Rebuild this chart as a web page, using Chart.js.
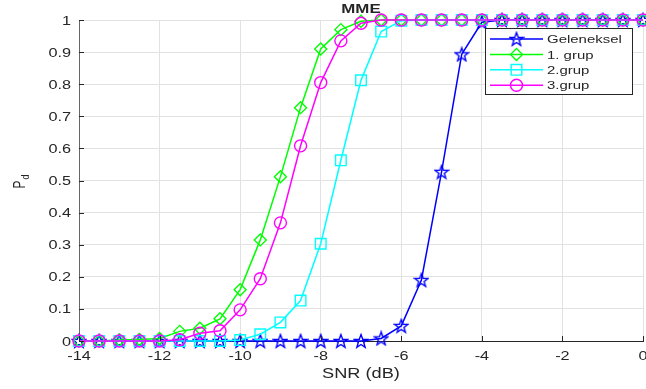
<!DOCTYPE html>
<html>
<head>
<meta charset="utf-8">
<script src="https://cdn.jsdelivr.net/npm/chart.js@4.4.1/dist/chart.umd.min.js"></script>
<style>
  html, body { margin: 0; padding: 0; background: #fff; }
  #wrap { width: 646px; height: 389px; position: relative; }
</style>
</head>
<body>
<div id="wrap"><canvas id="pdChart"></canvas></div>
<script>
// SNR points (dB)
var snr = [-14, -13.5, -13, -12.5, -12, -11.5, -11, -10.5, -10, -9.5, -9, -8.5, -8, -7.5, -7,
           -6.5, -6, -5.5, -5, -4.5, -4, -3.5, -3, -2.5, -2, -1.5, -1, -0.5, 0];

// Pd
var geleneksel = [0, 0, 0, 0, 0, 0, 0, 0, 0, 0, 0, 0, 0, 0, 0,
                  0.008, 0.047, 0.19, 0.527, 0.893, 0.993, 1, 1, 1, 1, 1, 1, 1, 1];
var grup1 = [0, 0, 0.003, 0.005, 0.008, 0.03, 0.04, 0.069, 0.16, 0.315, 0.512, 0.727, 0.91, 0.97, 0.996,
             1, 1, 1, 1, 1, 1, 1, 1, 1, 1, 1, 1, 1, 1];
var grup2 = [0, 0, 0, 0, 0, 0, 0, 0, 0.003, 0.021, 0.058, 0.126, 0.303, 0.563, 0.812,
             0.964, 0.998, 1, 1, 1, 1, 1, 1, 1, 1, 1, 1, 1, 1];
var grup3 = [0, 0, 0, 0, 0, 0.004, 0.024, 0.032, 0.097, 0.194, 0.368, 0.608, 0.805, 0.935, 0.99,
             1, 1, 1, 1, 1, 1, 1, 1, 1, 1, 1, 1, 1, 1];

var seriesNames = ['Geleneksel', '1. grup', '2.grup', '3.grup'];
var seriesColors = ['#0000ff', '#00ff00', '#00ffff', '#ff00ff'];

var xTicks = [-14, -12, -10, -8, -6, -4, -2, 0];
var xTickLabels = ['-14', '-12', '-10', '-8', '-6', '-4', '-2', '0'];
var yTicks = [0, 0.1, 0.2, 0.3, 0.4, 0.5, 0.6, 0.7, 0.8, 0.9, 1];
var yTickLabels = ['0', '0.1', '0.2', '0.3', '0.4', '0.5', '0.6', '0.7', '0.8', '0.9', '1'];

var FONT = '"Liberation Sans", Arial, Helvetica, sans-serif';
var SX = 1.3; // text in the original figure is drawn wide

// matlab style pentagram marker
function makeStar(color) {
  var c = document.createElement('canvas');
  c.width = 16;
  c.height = 16;
  var g = c.getContext('2d');
  g.beginPath();
  for (var i = 0; i < 10; i++) {
    var r = i % 2 === 0 ? 7 : 2.9;
    var a = -Math.PI / 2 + i * Math.PI / 5;
    var px = 8 + r * Math.cos(a), py = 8.6 + r * Math.sin(a);
    if (i === 0) g.moveTo(px, py); else g.lineTo(px, py);
  }
  g.closePath();
  g.strokeStyle = color;
  g.lineWidth = 1.4;
  g.stroke();
  return c;
}

function wideText(ctx, txt, x, y, align, font) {
  ctx.save();
  ctx.font = font;
  ctx.textAlign = align;
  ctx.textBaseline = 'alphabetic';
  ctx.fillStyle = '#262626';
  ctx.translate(x, y);
  ctx.scale(SX, 1);
  ctx.fillText(txt, 0, 0);
  ctx.restore();
}

function series(i, data, style, radius, order) {
  return {
    label: seriesNames[i],
    data: data.map(function (v, k) { return { x: snr[k], y: v }; }),
    borderColor: seriesColors[i],
    backgroundColor: 'rgba(0,0,0,0)',
    borderWidth: 1.5,
    pointStyle: style,
    pointRadius: radius,
    pointBorderWidth: 1.4,
    pointBorderColor: seriesColors[i],
    pointBackgroundColor: 'rgba(0,0,0,0)',
    tension: 0,
    clip: false,
    order: order
  };
}

var decor = {
  id: 'decor',
  afterDraw: function (chart) {
    var ctx = chart.ctx, a = chart.chartArea;
    var xs = chart.scales.x, ys = chart.scales.y;
    var midX = (a.left + a.right) / 2;

    // ticks point inward
    ctx.save();
    ctx.strokeStyle = '#262626';
    ctx.lineWidth = 1;
    ctx.beginPath();
    xTicks.forEach(function (v) {
      var px = Math.round(xs.getPixelForValue(v)) + 0.5;
      ctx.moveTo(px, a.bottom);
      ctx.lineTo(px, a.bottom - 5);
    });
    yTicks.forEach(function (v) {
      var py = Math.round(ys.getPixelForValue(v)) + 0.5;
      ctx.moveTo(a.left, py);
      ctx.lineTo(a.left + 5, py);
    });
    ctx.stroke();
    ctx.restore();

    var tickFont = '12.5px ' + FONT;
    xTicks.forEach(function (v, i) {
      wideText(ctx, xTickLabels[i], xs.getPixelForValue(v), a.bottom + 19, 'center', tickFont);
    });
    yTicks.forEach(function (v, i) {
      wideText(ctx, yTickLabels[i], a.left - 8, ys.getPixelForValue(v) + 4.5, 'right', tickFont);
    });

    wideText(ctx, 'SNR (dB)', midX, a.bottom + 37, 'center', '14px ' + FONT);
    wideText(ctx, 'MME', midX, 13, 'center', 'bold 13px ' + FONT);

    // y label P_d, rotated
    ctx.save();
    ctx.fillStyle = '#262626';
    ctx.translate(25, (a.top + a.bottom) / 2 + 8);
    ctx.scale(SX, 1);
    ctx.rotate(-Math.PI / 2);
    ctx.textAlign = 'left';
    ctx.textBaseline = 'alphabetic';
    ctx.font = '12px ' + FONT;
    ctx.fillText('P', 0, 0);
    var pw = ctx.measureText('P').width;
    ctx.font = '9px ' + FONT;
    ctx.fillText('d', pw + 1, 3);
    ctx.restore();

    // legend box
    var lx = a.right - 158, ly = a.top + 8, lw = 147, lh = 66;
    ctx.save();
    ctx.fillStyle = '#ffffff';
    ctx.fillRect(lx, ly, lw, lh);
    ctx.strokeStyle = '#262626';
    ctx.lineWidth = 1;
    ctx.strokeRect(lx + 0.5, ly + 0.5, lw, lh);
    chart.data.datasets.forEach(function (ds, i) {
      var ry = ly + 11 + i * 15.4;
      ctx.strokeStyle = ds.borderColor;
      ctx.lineWidth = 1.5;
      ctx.beginPath();
      ctx.moveTo(lx + 5, ry);
      ctx.lineTo(lx + 58, ry);
      ctx.stroke();
      ctx.fillStyle = 'rgba(0,0,0,0)';
      ctx.lineWidth = ds.pointBorderWidth;
      Chart.helpers.drawPoint(ctx, {
        pointStyle: ds.pointStyle, radius: ds.pointRadius, rotation: 0, borderWidth: ds.pointBorderWidth
      }, lx + 31.5, ry);
      wideText(ctx, ds.label, lx + 62, ry + 4.2, 'left', '11.5px ' + FONT);
    });
    ctx.restore();
  }
};

var ctxP = document.getElementById('pdChart').getContext('2d');
var pdChart = new Chart(ctxP, {
  type: 'line',
  data: {
    datasets: [
      series(0, geleneksel, makeStar(seriesColors[0]), 6, 4),
      series(1, grup1, 'rectRot', 6, 3),
      series(2, grup2, 'rect', 7.5, 2),
      series(3, grup3, 'circle', 6, 1)
    ]
  },
  options: {
    responsive: true,
    maintainAspectRatio: false,
    animation: false,
    events: [],
    layout: { autoPadding: false, padding: { left: 0, top: 20, right: 3, bottom: 0 } },
    plugins: { legend: { display: false }, title: { display: false }, tooltip: { enabled: false } },
    scales: {
      x: {
        type: 'linear',
        min: -14,
        max: 0,
        afterBuildTicks: function (s) { s.ticks = xTicks.map(function (v) { return { value: v }; }); },
        afterFit: function (s) { s.height = 48; s.paddingLeft = 0; s.paddingRight = 0; },
        ticks: { display: false },
        grid: { color: '#e2e2e2', lineWidth: 1, drawTicks: false },
        border: { color: '#262626', width: 1 }
      },
      y: {
        type: 'linear',
        min: 0,
        max: 1,
        afterBuildTicks: function (s) { s.ticks = yTicks.map(function (v) { return { value: v }; }); },
        afterFit: function (s) { s.width = 79; s.paddingTop = 0; s.paddingBottom = 0; },
        ticks: { display: false },
        grid: { color: '#e2e2e2', lineWidth: 1, drawTicks: false },
        border: { color: '#666666', width: 1 }
      }
    }
  },
  plugins: [decor]
});
</script>
</body>
</html>
